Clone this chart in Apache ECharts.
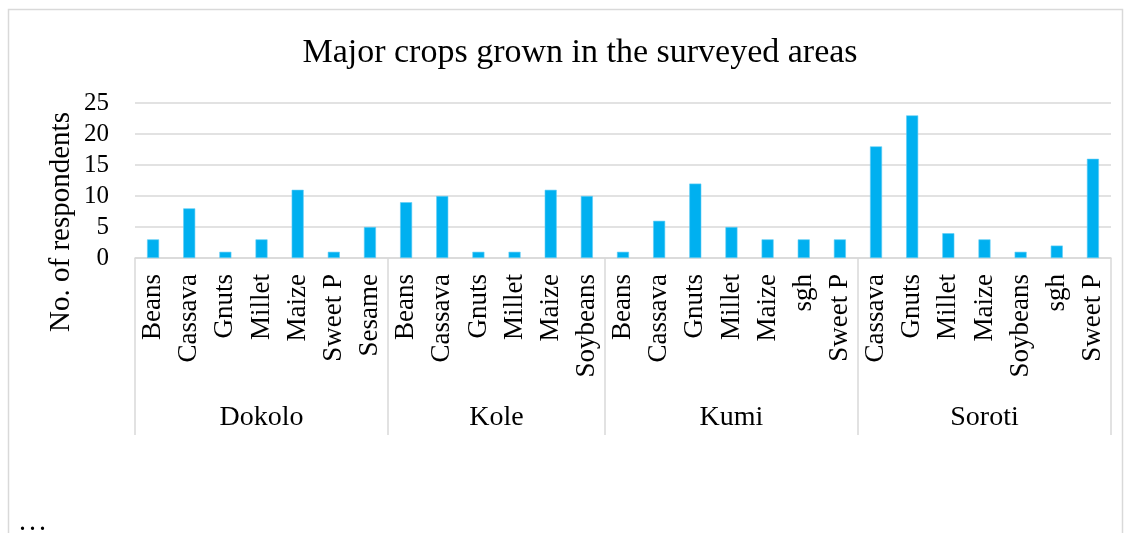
<!DOCTYPE html>
<html>
<head>
<meta charset="utf-8">
<title>Major crops grown in the surveyed areas</title>
<script src="https://cdn.jsdelivr.net/npm/echarts@6/dist/echarts.min.js"></script>
<style>
  html, body { margin: 0; padding: 0; background: #ffffff; }
  #chart { width: 1131px; height: 533px; }
</style>
</head>
<body>
<div id="chart"></div>
<script>
// District groups and the crops reported in each
const groups = ['Dokolo', 'Kole', 'Kumi', 'Soroti'];

const dokoloCrops  = ['Beans', 'Cassava', 'Gnuts', 'Millet', 'Maize', 'Sweet P', 'Sesame'];
const dokoloValues = [3, 8, 1, 3, 11, 1, 5];

const koleCrops  = ['Beans', 'Cassava', 'Gnuts', 'Millet', 'Maize', 'Soybeans'];
const koleValues = [9, 10, 1, 1, 11, 10];

const kumiCrops  = ['Beans', 'Cassava', 'Gnuts', 'Millet', 'Maize', 'sgh', 'Sweet P'];
const kumiValues = [1, 6, 12, 5, 3, 3, 3];

const sorotiCrops  = ['Cassava', 'Gnuts', 'Millet', 'Maize', 'Soybeans', 'sgh', 'Sweet P'];
const sorotiValues = [18, 23, 4, 3, 1, 2, 16];

const yTicks = [0, 5, 10, 15, 20, 25];

// Flatten the groups into one category axis
const groupCrops = [dokoloCrops, koleCrops, kumiCrops, sorotiCrops];
const groupValues = [dokoloValues, koleValues, kumiValues, sorotiValues];
const categories = [].concat(...groupCrops);
const values = [].concat(...groupValues);

// Group boundaries and centres along the band axis (in category units)
const bounds = [0];
const centres = [];
groupCrops.forEach(g => {
  const start = bounds[bounds.length - 1];
  centres.push(start + g.length / 2);
  bounds.push(start + g.length);
});

const FONT = '"Liberation Serif", "DejaVu Serif", serif';
const GRID_COLOR = '#d9d9d9';

const chart = echarts.init(document.getElementById('chart'), null, { renderer: 'canvas' });

chart.setOption({
  animation: false,
  backgroundColor: '#ffffff',
  title: {
    text: 'Major crops grown in the surveyed areas',
    left: 575,
    top: 31,
    textAlign: 'center',
    textStyle: { fontFamily: FONT, fontSize: 34, fontWeight: 'normal', color: '#000000' }
  },
  grid: { left: 135, right: 20, top: 103, bottom: 275, containLabel: false },
  xAxis: [
    {
      type: 'category',
      data: categories,
      boundaryGap: true,
      axisLine: { show: true, lineStyle: { color: GRID_COLOR, width: 1.5 } },
      axisTick: { show: false },
      axisLabel: {
        rotate: 90,
        interval: 0,
        margin: 16,
        fontFamily: FONT,
        fontSize: 27,
        color: '#000000'
      },
      splitLine: { show: false }
    },
    {
      type: 'value',
      position: 'bottom',
      min: 0,
      max: categories.length,
      axisLine: { show: false },
      axisTick: {
        show: true,
        customValues: bounds,
        length: 177,
        lineStyle: { color: GRID_COLOR, width: 1.5 }
      },
      axisLabel: {
        show: true,
        customValues: centres,
        margin: 146,
        formatter: v => groups[centres.indexOf(v)] || '',
        fontFamily: FONT,
        fontSize: 28,
        color: '#000000'
      },
      splitLine: { show: false }
    }
  ],
  yAxis: {
    type: 'value',
    min: yTicks[0],
    max: yTicks[yTicks.length - 1],
    interval: 5,
    axisLine: { show: false },
    axisTick: { show: false },
    axisLabel: { margin: 26, fontFamily: FONT, fontSize: 25, color: '#000000' },
    splitLine: { lineStyle: { color: GRID_COLOR, width: 1.5 } }
  },
  series: [
    {
      type: 'bar',
      xAxisIndex: 0,
      data: values,
      barWidth: 12,
      itemStyle: { color: '#00b0f0', borderColor: '#5fcdf5', borderWidth: 0.6 }
    }
  ],
  graphic: [
    {
      type: 'rect',
      silent: true,
      shape: { x: 8.5, y: 9.5, width: 1114, height: 600 },
      style: { fill: 'none', stroke: GRID_COLOR, lineWidth: 1.5 }
    },
    {
      type: 'text',
      silent: true,
      x: 61,
      y: 222,
      rotation: Math.PI / 2,
      style: {
        text: 'No. of respondents',
        fontFamily: FONT,
        fontSize: 29,
        fill: '#000000',
        align: 'center',
        verticalAlign: 'middle'
      }
    },
    {
      type: 'text',
      silent: true,
      x: 20,
      y: 525,
      style: {
        text: '. . .',
        fontFamily: FONT,
        fontSize: 20,
        fontWeight: 'bold',
        fill: '#000000',
        align: 'left',
        verticalAlign: 'middle'
      }
    }
  ]
});
</script>
</body>
</html>
